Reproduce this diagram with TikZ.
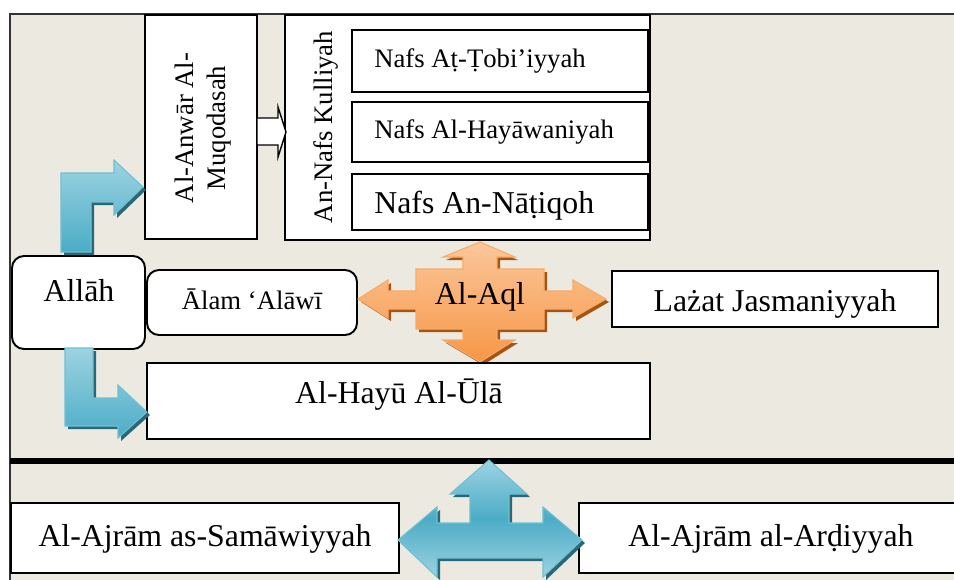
\documentclass[tikz,border=0pt]{standalone}
\usepackage{fontspec}
\setmainfont{Liberation Serif}

\definecolor{paper}{RGB}{236,233,224}
\definecolor{blueL}{RGB}{157,211,226}
\definecolor{blueM}{RGB}{75,172,198}
\definecolor{blueE}{RGB}{110,192,213}
\definecolor{blueS}{RGB}{42,104,120}
\definecolor{orangeL}{RGB}{251,199,155}
\definecolor{orangeM}{RGB}{247,150,70}
\definecolor{orangeE}{RGB}{249,170,100}
\definecolor{orangeS}{RGB}{166,84,20}

% block arrow outlines (pixel grid)
\newcommand\bentuppath{(61,252) -- (61,173) -- (114,173) -- (114,160) -- (143,187) -- (114,215) -- (114,202) -- (91,202) -- (91,252) -- cycle}
\newcommand\bentdownpath{(65,348) -- (93,348) -- (93,398) -- (118,398) -- (118,385) -- (147,412) -- (118,438) -- (118,426) -- (65,426) -- cycle}
\newcommand\triarrowpath{(489,460) -- (527,494) -- (509,494) -- (509,523) -- (543,523) -- (543,507) -- (582,540) -- (543,577) -- (543,558) -- (437,558) -- (437,577) -- (398,540) -- (437,507) -- (437,523) -- (470,523) -- (470,494) -- (450,494) -- cycle}
\newcommand\quadarrowpath{(480,242) -- (515,257) -- (497,257) -- (497,269) -- (544,269) -- (544,291) -- (573,291) -- (573,280) -- (606,299) -- (573,318) -- (573,309) -- (544,309) -- (544,329) -- (497,329) -- (497,340) -- (515,340) -- (480,362) -- (443,340) -- (463,340) -- (463,329) -- (416,329) -- (416,309) -- (388,309) -- (388,318) -- (358,299) -- (388,280) -- (388,291) -- (416,291) -- (416,269) -- (463,269) -- (463,257) -- (443,257) -- cycle}

\begin{document}
\begin{tikzpicture}[
    x=0.02cm, y=-0.02cm,
    box/.style={draw=black, line width=1.1pt, fill=white},
    rbox/.style={box, rounded corners=0.24cm},
    smalltext/.style={font=\fontsize{15.2}{18.2}\selectfont, inner sep=0pt},
    bigtext/.style={font=\fontsize{18.1}{21}\selectfont, inner sep=0pt},
    blockshadow/.style={fill=#1, shift={(3,3)}},
    bluearrow/.style={draw=blueE, line width=0.6pt, top color=blueL, bottom color=blueM},
    orangearrow/.style={draw=orangeE, line width=0.6pt, top color=orangeL, bottom color=orangeM}
]

% ============================================================
% PAGE AND FRAME
% ============================================================
\useasboundingbox (0,0) rectangle (954,579);
\clip (0,0) rectangle (954,579);
\fill[white] (0,0) rectangle (954,579);
\draw[fill=paper, draw=black!80, line width=0.8pt] (10,14) rectangle (970,600);
\draw[line width=3.4pt] (10,461) -- (954,461);

% ============================================================
% UPPER ROW: Al-Anwar and An-Nafs Kulliyah
% ============================================================
\draw[box] (145,15) rectangle (257,239);
\node[smalltext, rotate=90, align=center] (anwar) at (203,128) {Al-Anwār Al-\\Muqodasah};

\draw[box] (285,15) rectangle (650,240);
\node[smalltext, rotate=90, anchor=base] (kulliyah) at (332,127) {An-Nafs Kulliyah};

\draw[box] (352,30) rectangle (648,92);
\node[smalltext, anchor=base west] (tobi) at (374,67) {Nafs Aṭ-Ṭobi’iyyah};

\draw[box] (352,102) rectangle (648,162);
\node[smalltext, anchor=base west] (hayawan) at (374,138) {Nafs Al-Hayāwaniyah};

\draw[box] (352,174) rectangle (648,230);
\node[bigtext, anchor=base west] (natiq) at (374,213) {Nafs An-Nāṭiqoh};

% hollow arrow Anwar -> Kulliyah
\draw[box, line width=0.8pt] (257,118) -- (278,118) -- (278,107) -- (286,132) -- (278,157) -- (278,145) -- (257,145) -- cycle;

% ============================================================
% MIDDLE ROW: Allah, Alam, Al-Aql, Lazat
% ============================================================
\draw[rbox] (12,256) rectangle (145,349);
\node[bigtext, anchor=base] (allah) at (79,301) {Allāh};

\draw[rbox] (147,270) rectangle (357,335);
\node[smalltext, anchor=base] (alam) at (252,309) {Ālam ‘Alāwī};

\fill[blockshadow=orangeS] \quadarrowpath;
\draw[orangearrow] \quadarrowpath;
\node[bigtext, anchor=base] (aql) at (480,304) {Al-Aql};

\draw[box] (612,271) rectangle (938,327);
\node[bigtext, anchor=base] (lazat) at (775,311) {Lażat Jasmaniyyah};

\draw[box] (147,363) rectangle (650,439);
\node[bigtext, anchor=base] (hayu) at (399,403) {Al-Hayū Al-Ūlā};

% bent arrows out of Allah
\fill[blockshadow=blueS] \bentuppath;
\draw[bluearrow] \bentuppath;
\fill[blockshadow=blueS] \bentdownpath;
\draw[bluearrow] \bentdownpath;

% ============================================================
% LOWER ROW: Al-Ajram
% ============================================================
\draw[box] (11,503) rectangle (399,573);
\node[bigtext, anchor=base] (samawi) at (205,546) {Al-Ajrām as-Samāwiyyah};

\draw[box] (579,503) rectangle (963,573);
\node[bigtext, anchor=base] (ardi) at (771,546) {Al-Ajrām al-Arḍiyyah};

\fill[blockshadow=blueS] \triarrowpath;
\draw[bluearrow, top color=blueL, bottom color=blueL, middle color=blueM] \triarrowpath;

\end{tikzpicture}
\end{document}
